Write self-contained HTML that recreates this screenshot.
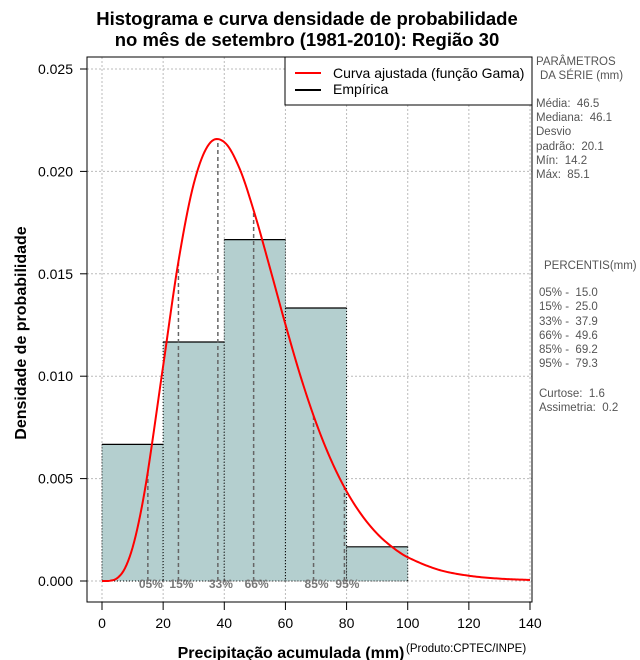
<!DOCTYPE html>
<html><head><meta charset="utf-8"><style>
body{margin:0;background:#fff;}
svg{display:block;font-family:"Liberation Sans",sans-serif;}
text{white-space:pre;}
</style></head><body>
<svg id="chart" width="640" height="660" xmlns="http://www.w3.org/2000/svg">
<text x="307" y="25" text-anchor="middle" font-size="18.5" font-weight="bold">Histograma e curva densidade de probabilidade</text>
<text x="307" y="46" text-anchor="middle" font-size="18.5" font-weight="bold">no mês de setembro (1981-2010): Região 30</text>
<g id="grid"></g>
<g id="bars"></g>
<g id="pct"></g>
<g id="curve"></g>
<g id="axes"></g>
<rect x="87" y="57" width="445" height="545" fill="none" stroke="#000" stroke-width="1"/>
<g>
<rect x="285" y="57" width="247" height="48" fill="#fff" stroke="#000"/>
<line x1="295" y1="73" x2="321" y2="73" stroke="#f00" stroke-width="2"/>
<text x="333" y="78" font-size="14">Curva ajustada (função Gama)</text>
<line x1="295" y1="90" x2="321" y2="90" stroke="#000" stroke-width="2"/>
<text x="333" y="94" font-size="14">Empírica</text>
</g>
<g font-size="11.5" fill="#555">
<text x="536" y="65">PARÂMETROS</text><text x="540" y="79">DA SÉRIE (mm)</text>
<text x="536" y="107">Média:  46.5</text><text x="536" y="121">Mediana:  46.1</text>
<text x="536" y="135">Desvio</text><text x="536" y="150">padrão:  20.1</text>
<text x="536" y="164">Mín:  14.2</text><text x="536" y="178">Máx:  85.1</text>
<text x="544" y="269">PERCENTIS(mm)</text>
<text x="539" y="296">05% -  15.0</text><text x="539" y="310">15% -  25.0</text>
<text x="539" y="325">33% -  37.9</text><text x="539" y="339">66% -  49.6</text>
<text x="539" y="353">85% -  69.2</text><text x="539" y="367">95% -  79.3</text>
<text x="539" y="397">Curtose:  1.6</text><text x="539" y="411">Assimetria:  0.2</text>
</g>
<text x="291" y="658" text-anchor="middle" font-size="16" font-weight="bold">Precipitação acumulada (mm)</text>
<text x="406" y="652" font-size="11.5">(Produto:CPTEC/INPE)</text>
<text transform="translate(26,333) rotate(-90)" text-anchor="middle" font-size="16" font-weight="bold">Densidade de probabilidade</text>
</svg>
<script>
const binStarts=[0,20,40,60,80];
const binDensity=[0.00667,0.01167,0.01667,0.01333,0.00167];
const curveX=[0,2.5,5,7.5,10,12.5,15,20,25,30,35,40,45,50,55,60,65,70,75,80,85,90,95,100,110,120,130,140];
const curveY=[0,0.000009,0.000142,0.00062,0.00163,0.00322,0.00534,0.0105,0.0156,0.01939,0.02133,0.02143,0.02014,0.0179,0.01525,0.01253,0.00997,0.00774,0.00588,0.00438,0.00321,0.00231,0.00165,0.00116,0.000554,0.000257,0.000115,0.00005];
const pctVals=[15.0,25.0,37.9,49.6,69.2,79.3];
const pctLabels=["05%","15%","33%","66%","85%","95%"];
const xTicks=[0,20,40,60,80,100,120,140];
const yTicks=[0,0.005,0.010,0.015,0.020,0.025];
const binWidth=20;
const NS="http://www.w3.org/2000/svg";
const sx=v=>102+v*(428/140);
const sy=v=>581-v*(512/0.025);
function mk(tag,attrs,parent){const e=document.createElementNS(NS,tag);for(const k in attrs)e.setAttribute(k,attrs[k]);parent.appendChild(e);return e;}
function interp(x){const n=curveX.length;let i=0;while(i<n-2&&x>curveX[i+1])i++;
const m=[];for(let k=0;k<n;k++){if(k===0)m.push((curveY[1]-curveY[0])/(curveX[1]-curveX[0]));else if(k===n-1)m.push((curveY[n-1]-curveY[n-2])/(curveX[n-1]-curveX[n-2]));else m.push((curveY[k+1]-curveY[k-1])/(curveX[k+1]-curveX[k-1]));}
const h=curveX[i+1]-curveX[i],t=(x-curveX[i])/h,t2=t*t,t3=t2*t;
return (2*t3-3*t2+1)*curveY[i]+(t3-2*t2+t)*h*m[i]+(-2*t3+3*t2)*curveY[i+1]+(t3-t2)*h*m[i+1];}
const grid=document.getElementById('grid');
xTicks.forEach(v=>{const l=mk('line',{x1:sx(v),x2:sx(v),y1:57,y2:602,stroke:'#bbb','stroke-dasharray':'2,2'},grid);

});
yTicks.forEach(v=>{const l=mk('line',{x1:87,x2:532,y1:sy(v),y2:sy(v),stroke:'#bbb','stroke-dasharray':'2,2'},grid);

});
const bars=document.getElementById('bars');
binStarts.forEach((b,i)=>{const x0=sx(b),x1=sx(b+binWidth),y=sy(binDensity[i]);
const r=mk('rect',{x:x0,y:y,width:x1-x0,height:sy(0)-y,fill:'#b4cfcf'},bars);


mk('line',{x1:x0,x2:x1,y1:y,y2:y,stroke:'#000','stroke-width':1.2},bars);
mk('line',{x1:x0,x2:x0,y1:y,y2:sy(0),stroke:'#000','stroke-dasharray':'1,2'},bars);
mk('line',{x1:x1,x2:x1,y1:y,y2:sy(0),stroke:'#000','stroke-dasharray':'1,2'},bars);
mk('line',{x1:x0,x2:x1,y1:sy(0),y2:sy(0),stroke:'#000','stroke-dasharray':'1,2'},bars);});
const pct=document.getElementById('pct');
pctVals.forEach((v,i)=>{const l=mk('line',{x1:sx(v),x2:sx(v),y1:sy(0),y2:sy(interp(v)),stroke:'#666','stroke-width':1.5,'stroke-dasharray':'4,3'},pct);


const t=mk('text',{x:sx(v)+3,y:588,'text-anchor':'middle','font-size':12,'font-weight':'bold',fill:'#777'},pct);t.textContent=pctLabels[i];

});
const curve=document.getElementById('curve');
const pts=[];for(let x=0;x<=140;x+=0.5)pts.push(sx(x)+','+sy(Math.max(0,interp(x))));
const p=mk('polyline',{points:pts.join(' '),fill:'none',stroke:'#f00','stroke-width':2},curve);


const axes=document.getElementById('axes');
mk('line',{x1:sx(0),x2:sx(140),y1:602,y2:602,stroke:'#000'},axes);
xTicks.forEach(v=>{mk('line',{x1:sx(v),x2:sx(v),y1:602,y2:610,stroke:'#000'},axes);
const t=mk('text',{x:sx(v),y:628,'text-anchor':'middle','font-size':14},axes);t.textContent=v;

});
yTicks.forEach(v=>{mk('line',{x1:80,x2:87,y1:sy(v),y2:sy(v),stroke:'#000'},axes);
const t=mk('text',{x:73,y:sy(v)+5,'text-anchor':'end','font-size':14},axes);t.textContent=v.toFixed(3);

});
</script>
</body></html>
